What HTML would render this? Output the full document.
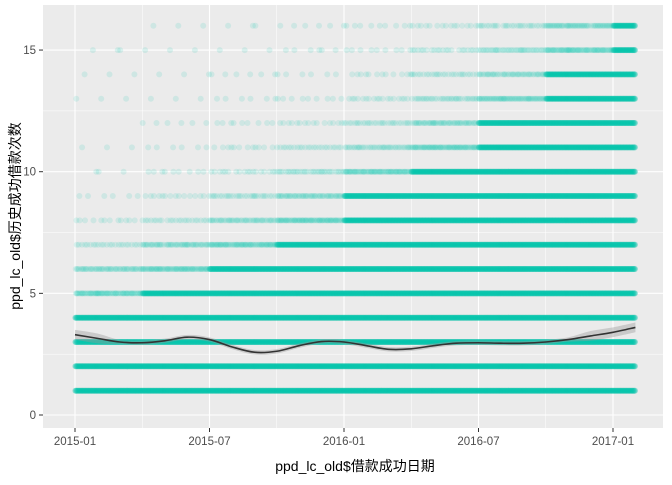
<!DOCTYPE html>
<html><head><meta charset="utf-8"><style>
body{margin:0;background:#fff;font-family:"Liberation Sans","Noto Sans CJK SC",sans-serif;}
svg text{font-family:"Liberation Sans","Noto Sans CJK SC",sans-serif;}
</style></head><body>
<svg id="chart" width="672" height="480">
<rect x="43" y="5" width="620" height="423" fill="#EBEBEB"/>
<g id="grid"></g><g id="pts"></g><g id="smooth"></g><g id="axes"></g>
<text x="355" y="471" text-anchor="middle" font-size="14" fill="#000">ppd_lc_old$借款成功日期</text>
<text transform="translate(20,216) rotate(-90)" text-anchor="middle" font-size="14" fill="#000">ppd_lc_old$历史成功借款次数</text>
</svg>
<script>
const xTickLabels=["2015-01","2015-07","2016-01","2016-07","2017-01"];
const xTickMonths=[0,6,12,18,24];
const yTicks=[0,5,10,15];
const rowValues=[1,2,3,4,5,6,7,8,9,10,11,12,13,14,15,16];
// points per month for each quarter 2015Q1..2017Q1
const rowDensity=[
[30,30,30,30,30,30,30,30,30],[30,30,30,30,30,30,30,30,30],[30,30,30,30,30,30,30,30,30],[30,30,30,30,30,30,30,30,30],
[25,30,30,30,30,30,30,30,30],[18,25,30,30,30,30,30,30,30],[8,18,25,30,30,30,30,30,30],[4,8,16,25,30,30,30,30,30],
[2,5,10,18,30,30,30,30,30],[1,3,6,12,25,30,30,30,30],[1,2,4,8,14,25,30,30,30],[0,2,3,5,10,18,30,30,30],
[1,1,2,3,6,12,22,30,30],[1,1,2,2,4,9,16,30,30],[1,1,1,2,3,7,14,25,30],[0,1,1,2,3,5,10,20,30]];
const smoothMonths=[0,1,2,3,4,5,6,7,8,9,10,11,12,13,14,15,16,17,18,19,20,21,22,23,24,25];
const smoothValues=[3.3,3.15,3.0,2.97,3.05,3.2,3.1,2.8,2.58,2.62,2.85,3.02,3.0,2.85,2.7,2.72,2.85,2.95,2.97,2.95,2.95,3.0,3.1,3.25,3.4,3.6];
const ns="http://www.w3.org/2000/svg";
const x=m=>75+m*(538/24);
const y=v=>415-v*24.33;
function mk(t,a,p){const e=document.createElementNS(ns,t);for(const k in a)e.setAttribute(k,a[k]);p.appendChild(e);return e;}
const grid=document.getElementById('grid');
for(let m=-3;m<=27;m+=3){if(x(m)<43||x(m)>663)continue;
 const l=mk('line',{x1:x(m),x2:x(m),y1:5,y2:428,stroke:'#fff','stroke-width':m%6===0?1.1:0.5},grid);
 
 }
for(let v=-2.5;v<=17.5;v+=2.5){if(y(v)<5||y(v)>428)continue;
 const l=mk('line',{x1:43,x2:663,y1:y(v),y2:y(v),stroke:'#fff','stroke-width':v%5===0?1.1:0.5},grid);
 
 }
const pts=document.getElementById('pts');
rowValues.forEach((v,i)=>{
 const g=mk('g',{fill:'#00C2AE','fill-opacity':0.12},pts);
 
 
 for(let mo=0;mo<25;mo++){const n=rowDensity[i][Math.min(8,Math.floor(mo/3))];
  const reps=n>=30?3:1;
  for(let k=0;k<n*reps;k++){const f=((k+1)*0.618034+i*0.37+mo*0.11)%1;
   const m=mo+(n>=30?(k%n+0.5)/n:f);
   const c=mk('circle',{cx:x(m).toFixed(1),cy:y(v).toFixed(1),r:3},g);
   
   }}
});
const sm=document.getElementById('smooth');
function curve(P){let d='M'+P[0][0]+','+P[0][1];
 for(let i=0;i<P.length-1;i++){const p0=P[Math.max(0,i-1)],p1=P[i],p2=P[i+1],p3=P[Math.min(P.length-1,i+2)];
  d+='C'+(p1[0]+(p2[0]-p0[0])/6)+','+(p1[1]+(p2[1]-p0[1])/6)+' '+(p2[0]-(p3[0]-p1[0])/6)+','+(p2[1]-(p3[1]-p1[1])/6)+' '+p2[0]+','+p2[1];}
 return d;}
const wid=i=>(i<2||i>22)?0.2:0.09;
const upP=smoothMonths.map((m,i)=>[x(m),y(smoothValues[i]+wid(i))]);
const loP=smoothMonths.map((m,i)=>[x(m),y(smoothValues[i]-wid(i))]).reverse();
const midP=smoothMonths.map((m,i)=>[x(m),y(smoothValues[i])]);
const band=mk('path',{d:curve(upP)+curve(loP).replace('M','L')+'Z',fill:'#999','fill-opacity':0.4},sm);


const sl=mk('path',{d:curve(midP),fill:'none',stroke:'#333','stroke-width':1.6},sm);


const ax=document.getElementById('axes');
xTickMonths.forEach((m,i)=>{mk('line',{x1:x(m),x2:x(m),y1:428,y2:432,stroke:'#333'},ax);
 const t=mk('text',{x:x(m),y:445,'text-anchor':'middle','font-size':11.5,fill:'#4D4D4D'},ax);t.textContent=xTickLabels[i];
 
 });
yTicks.forEach(v=>{mk('line',{x1:39,x2:43,y1:y(v),y2:y(v),stroke:'#333'},ax);
 const t=mk('text',{x:36,y:y(v)+4,'text-anchor':'end','font-size':11.5,fill:'#4D4D4D'},ax);t.textContent=v;
 
 });
</script>
</body></html>
